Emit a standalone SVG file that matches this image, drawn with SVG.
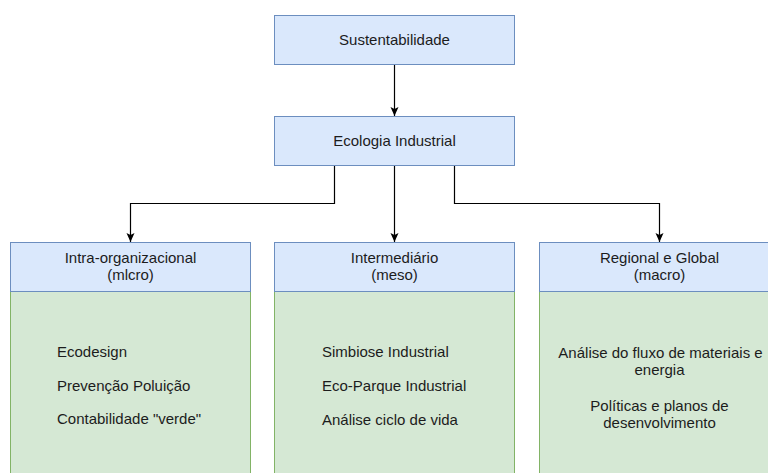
<svg xmlns="http://www.w3.org/2000/svg" width="768" height="473" viewBox="0 0 768 473">
<style>
.hdr{fill:#dae8fc;stroke:#6c8ebf;stroke-width:1}
.body{fill:#d5e8d4;stroke:#82b366;stroke-width:1}
text{font-family:"Liberation Sans",Arial,sans-serif;font-size:15px;fill:#1c1c1c}
.c{text-anchor:middle}
.edge{fill:none;stroke:#000;stroke-width:1.2}
</style>
<defs>
<marker id="arr" markerUnits="userSpaceOnUse" markerWidth="12" markerHeight="12" viewBox="0 0 12 12" refX="10" refY="6" orient="auto">
<path d="M1,2 L10,6 L1,10 L3,6 Z" fill="#000"/>
</marker>
</defs>
<rect width="768" height="473" fill="#fff"/>
<g id="sustentabilidade">
<rect class="hdr" x="274.5" y="15.5" width="240" height="49"/>
<text class="c" x="394.5" y="45">Sustentabilidade</text>
</g>
<g id="ecologia">
<rect class="hdr" x="274.5" y="116.5" width="240" height="49"/>
<text class="c" x="394.5" y="146">Ecologia Industrial</text>
</g>
<g id="micro">
<rect class="body" x="10.5" y="291.5" width="240" height="200"/>
<rect class="hdr" x="10.5" y="242.5" width="240" height="49"/>
<text class="c" x="130.5" y="263">Intra-organizacional</text>
<text class="c" x="130.5" y="280">(mlcro)</text>
<text x="57" y="357">Ecodesign</text>
<text x="57" y="391">Prevenção Poluição</text>
<text x="57" y="424">Contabilidade "verde"</text>
</g>
<g id="meso">
<rect class="body" x="274.5" y="291.5" width="240" height="200"/>
<rect class="hdr" x="274.5" y="242.5" width="240" height="49"/>
<text class="c" x="394.5" y="263">Intermediário</text>
<text class="c" x="394.5" y="280">(meso)</text>
<text x="322" y="357">Simbiose Industrial</text>
<text x="322" y="391">Eco-Parque Industrial</text>
<text x="322" y="425">Análise ciclo de vida</text>
</g>
<g id="macro">
<rect class="body" x="539.5" y="291.5" width="240" height="200"/>
<rect class="hdr" x="539.5" y="242.5" width="240" height="49"/>
<text class="c" x="659.5" y="263">Regional e Global</text>
<text class="c" x="659.5" y="280">(macro)</text>
<text class="c" x="660.5" y="358">Análise do fluxo de materiais e</text>
<text class="c" x="659.5" y="375">energia</text>
<text class="c" x="659.5" y="411">Políticas e planos de</text>
<text class="c" x="659.5" y="428">desenvolvimento</text>
</g>
<g id="connectors">
<path class="edge" d="M394.5,65 L394.5,116" marker-end="url(#arr)"/>
<path class="edge" d="M334.5,166 L334.5,203.5 L130.5,203.5 L130.5,242" marker-end="url(#arr)"/>
<path class="edge" d="M394.5,166 L394.5,242" marker-end="url(#arr)"/>
<path class="edge" d="M454.5,166 L454.5,203.5 L659.5,203.5 L659.5,242" marker-end="url(#arr)"/>
</g>
</svg>
